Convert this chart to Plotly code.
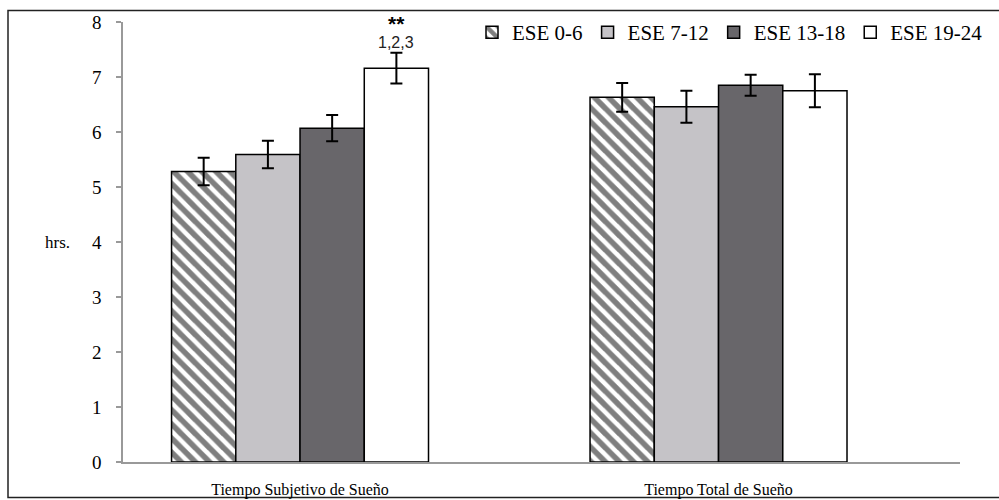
import plotly.graph_objects as go

categories = ["Tiempo Subjetivo de Sueño", "Tiempo Total de Sueño"]
series_names = ["ESE 0-6", "ESE 7-12", "ESE 13-18", "ESE 19-24"]
values = [
    [5.28, 6.63],
    [5.59, 6.46],
    [6.07, 6.85],
    [7.16, 6.75],
]
errors = [
    [0.25, 0.26],
    [0.25, 0.29],
    [0.24, 0.19],
    [0.28, 0.30],
]
y_ticks = [0, 1, 2, 3, 4, 5, 6, 7, 8]

colors = ["white", "#c5c3c7", "#68666a", "white"]
SERIF = "Liberation Serif"

W, H = 999, 500
ml, mr, mt, mb = 123, 39, 22, 38
bargap = 0.386

fig = go.Figure()
for i, name in enumerate(series_names):
    marker = dict(color=colors[i], line=dict(color="black", width=1.5))
    if i == 0:
        marker["pattern"] = dict(shape="\\", size=10, solidity=0.55,
                                 fgcolor="black", bgcolor="white", fillmode="overlay")
    fig.add_trace(go.Bar(
        name=name, x=categories, y=values[i],
        marker=marker,
        error_y=dict(type="data", array=errors[i], color="black",
                     thickness=2, width=6),
    ))

# position of the 4th bar in group 1
bw = (1 - bargap) / 4
x_ann = 1.5 * bw

fig.add_annotation(x=x_ann, y=7.98, xref="x", yref="y", text="<b>**</b>",
                   showarrow=False, font=dict(family="Liberation Sans", size=21, color="black"))
fig.add_annotation(x=x_ann, y=7.63, xref="x", yref="y", text="1,2,3",
                   showarrow=False, font=dict(family="Liberation Sans", size=16, color="#222"))

pw = W - ml - mr
ph = H - mt - mb
def px_x(p):
    return (p - ml) / pw
def px_y(p):
    return (H - mb - p) / ph

fig.add_annotation(x=px_x(43), y=px_y(242), xref="paper", yref="paper", text="hrs.",
                   showarrow=False, font=dict(family=SERIF, size=17, color="black"))

# outer frame
fig.add_shape(type="rect", xref="paper", yref="paper",
              x0=px_x(8), x1=px_x(1005), y0=px_y(497.5), y1=px_y(10.5),
              line=dict(color="#222", width=1.5), fillcolor="rgba(0,0,0,0)", layer="below")

fig.update_layout(
    width=W, height=H,
    margin=dict(l=ml, r=mr, t=mt, b=mb, autoexpand=False),
    paper_bgcolor="white", plot_bgcolor="white",
    barmode="group", bargap=bargap, bargroupgap=0,
    showlegend=True,
    legend=dict(orientation="h", x=px_x(472), y=px_y(12), xanchor="left", yanchor="top",
                font=dict(family=SERIF, size=21, color="black"),
                itemwidth=30, bgcolor="rgba(0,0,0,0)", traceorder="normal"),
    xaxis=dict(range=[-0.423, 1.577], showline=True, linecolor="#999", linewidth=1.5,
               ticks="", tickfont=dict(family=SERIF, size=16, color="black"),
               ticklabelstandoff=12, showgrid=False, zeroline=False, automargin=False),
    yaxis=dict(range=[0, 8], tickvals=y_ticks, showline=True, linecolor="#999", linewidth=1.5,
               ticks="outside", ticklen=5, tickcolor="#999", tickwidth=1.5,
               tickfont=dict(family=SERIF, size=19, color="black"),
               ticklabelstandoff=11, showgrid=False, zeroline=False, automargin=False),
)

fig.write_html("out.html")
